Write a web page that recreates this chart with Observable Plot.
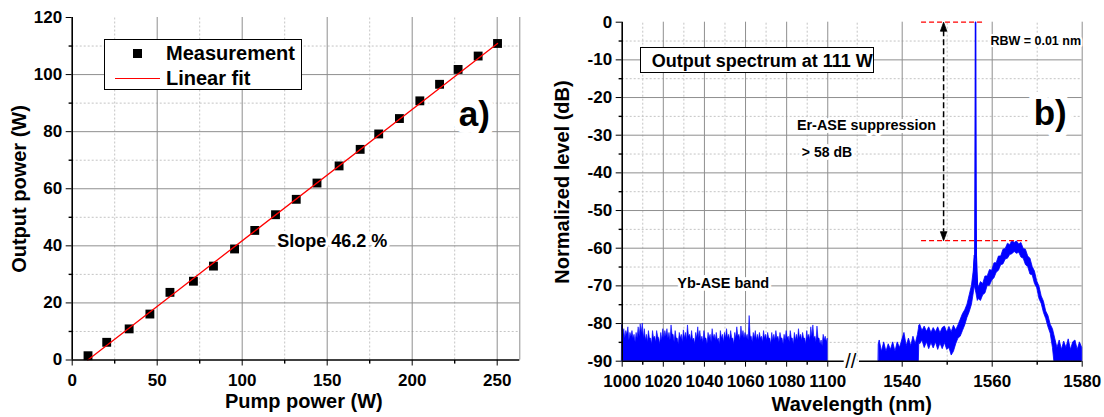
<!DOCTYPE html>
<html><head><meta charset="utf-8">
<script src="https://cdn.jsdelivr.net/npm/d3@7"></script>
<script src="https://cdn.jsdelivr.net/npm/@observablehq/plot@0.6"></script>
<style>
body{margin:0;background:#fff;}
#wrap{position:relative;width:1104px;height:417px;font-family:"Liberation Sans",Arial,sans-serif;font-weight:bold;color:#000;overflow:hidden;background:#fff}
#wrap svg{position:absolute;top:0}
#wrap svg text{paint-order:stroke}
.abs{position:absolute;white-space:nowrap;line-height:1}
</style></head><body><div id="wrap"></div>
<script>
// ---------- Panel a data ----------
const pumpPower   = [9.3, 20.3, 33.5, 45.7, 57.5, 71.3, 83.1, 95.5, 107.4, 119.6, 131.8, 144.0, 157.0, 169.4, 180.3, 192.5, 204.5, 216.1, 227.0, 238.8, 250.2];
const outputPower = [1.5, 6.2, 10.9, 16.1, 23.7, 27.6, 32.9, 38.9, 45.4, 50.9, 56.3, 62.0, 68.0, 73.8, 79.2, 84.6, 90.8, 96.6, 101.8, 106.5, 110.9];
const fitPump   = [9.2, 250.2];
const fitOutput = [0, 110.9];
const xTicksA = [0, 50, 100, 150, 200, 250];
const xMinorA = [25, 75, 125, 175, 225];
const yTicksA = [0, 20, 40, 60, 80, 100, 120];
const yMinorA = [10, 30, 50, 70, 90, 110];

// ---------- Panel b data ----------
const ybStart = 1000, ybStep = 0.5;
const ybLevel = [
 -80.5,-83.5,-81.5,-84,-82,-83,-81,-84.5,-82.5,-83.5,-82,-84,-83,-85,-82.5,-84,-81,-83.5,-80.2,-82.5,
 -80,-84,-81.5,-84.5,-83,-85,-82,-84,-84,-85.5,-82,-84,-83.5,-85,-82,-83.5,-84,-85.5,-82.5,-84.5,
 -81.5,-84,-82,-83.5,-81.5,-84,-82.5,-84.5,-80.5,-83,-83,-85,-82,-84,-84,-85.5,-82.5,-84,-83,-85,
 -81.8,-84,-82.5,-84.5,-80.5,-83.5,-83,-84.5,-82,-84.5,-84,-85.5,-82.5,-84,-81,-84,-82,-84.5,-83.5,-85,
 -82,-84,-84,-85.5,-82.5,-84,-83,-85,-81.5,-84,-83,-84.5,-82.5,-84.5,-84,-85.5,-82,-84,-83,-85,
 -82.5,-84,-81.5,-84,-83,-84.5,-82,-84,-84,-85.5,-82.5,-84,-81,-83.5,-83,-84.5,-80.8,-83.5,-82,-84,
 -82.5,-84,-83,-84.5,-78,-83.5,-83.5,-85,-82.5,-84,-82,-84.5,-83,-84.5,-82.5,-84,-83.5,-85,-82,-84,
 -83,-84.5,-82.5,-84,-84,-85.5,-82.5,-84.5,-83,-84.5,-82,-84,-83.5,-85,-82.5,-84,-84,-85.5,-83,-84.5,
 -82,-84,-83.5,-85,-82,-84,-84,-85.5,-82.5,-84.5,-83,-84.5,-81.5,-84,-83,-84.5,-82.5,-84,-84,-85.5,
 -82,-84,-83,-84.5,-81,-83.5,-80.5,-84,-83.5,-85,-80.8,-84,-84,-85.5,-84.5,-86,-83,-84.5,-83.5,-85,-84
];
const erWavelength = [
 1534.8,1535,1535.5,1536,1536.5,1537,1537.5,1538,1538.5,1539,1539.5,1540,1540.5,1541,1541.5,1542,1542.5,1543,1543.5,1543.7,
 1543.8,1544,1544.5,1545,1545.5,1546,1546.5,1547,1547.5,1548,1548.5,1549,1549.5,1550,1550.5,1551,1551.5,1552,1552.5,1553,
 1553.5,1554,1554.5,1555,1555.5,1555.9,1556.1,1556.5,1556.8,1557,1557.5,1558,1558.5,1559,1559.5,1560,1560.5,1561,1561.5,1562,1562.5,1563,
 1563.5,1564,1564.5,1565,1565.5,1566,1566.5,1567,1567.5,1568,1568.5,1569,1569.5,1570,1570.5,1571,1571.5,1572,1572.5,1573,1573.5,1573.8,
 1574,1574.5,1575,1575.5,1576,1576.5,1577,1577.5,1578,1578.5,1579,1579.5,1580];
const erUpper = [
 -85.5,-84.5,-87.5,-85,-87.5,-85.5,-87,-85,-87.5,-85,-86.5,-84.5,-82.5,-86,-84,-86,-83.5,-85.5,-83,-81.5,
 -80.5,-80.3,-82,-80.8,-82.2,-81,-82.5,-81.2,-82.3,-81,-82.6,-81.2,-80.8,-82.4,-80.9,-82.3,-80.6,-81.8,-80.5,-79,
 -77.5,-76.5,-75,-72.5,-70,-66,-62,-64,-69.5,-70.5,-69,-69.5,-67.5,-67.5,-65.8,-66,-64,-64,-62.2,-62.2,-60.4,-60.2,
 -58.8,-59.2,-58,-58.6,-58.2,-59,-58.6,-60.2,-60.4,-62.2,-62.8,-65,-66.2,-68.8,-70.2,-72.8,-74.2,-76.8,-78,-80.3,-81.5,-83,
 -84,-86.5,-84.5,-87,-84.8,-86.5,-84.2,-87,-85,-84.5,-87,-85,-86.5];
const erLower = [
 -90,-90,-90,-90,-90,-90,-90,-90,-90,-90,-90,-90,-90,-90,-90,-90,-90,-90,-90,-90,
 -85,-85.5,-84.5,-86.5,-85,-86.8,-85.2,-86.6,-85,-87,-85.3,-86.8,-85.2,-87,-86.5,-88.5,-87.5,-85.5,-84,-83.5,
 -82,-80.5,-78.5,-77,-75,-72,-70,-72,-74,-73.5,-74,-72.5,-72,-70,-70,-68.6,-68,-66.5,-66,-64.5,-64.3,-63,
 -62.8,-61.8,-61.6,-61,-61.5,-61.2,-62.5,-62.8,-64.5,-65,-67,-67.2,-69.5,-70.6,-73.5,-74.8,-77.2,-78.8,-81,-82.7,-86.5,-90,
 -90,-90,-90,-90,-90,-90,-90,-90,-90,-90,-90,-90,-90];
const peakWavelength = [1555.9, 1556.15, 1556.27, 1556.3, 1556.33, 1556.45, 1556.7];
const peakLevel      = [-66, -62, -20, 0, -20, -62, -70];
const xTicksB = [1000, 1020, 1040, 1060, 1080, 1100, 1540, 1560, 1580];
const xMinorB = [1010, 1030, 1050, 1070, 1090, 1550, 1570];
const xGridMajorB = [1020, 1040, 1060, 1080, 1100, 1540, 1560, 1580];
const xGridMinorB = [1010, 1030, 1050, 1070, 1090, 1530, 1550, 1570];
const yTicksB = [0, -10, -20, -30, -40, -50, -60, -70, -80, -90];
const yMinorB = [-5, -15, -25, -35, -45, -55, -65, -75, -85];
const suppressionTop = 0, suppressionBottom = -58, suppressionX = 1549.2;

// ---------- styles ----------
const BLUE = "#0000ff", RED = "#ff0000";
const gridMajor = "#8f8f8f", gridMinor = "#c4c4c4";
const fmt = d => String(d);
const baseStyle = {fontFamily: "'Liberation Sans', Arial, sans-serif", fontSize: "17px", fontWeight: "bold", color: "#000", background: "transparent", overflow: "visible"};
const tickDown = {draw(c){ c.moveTo(0,0); c.lineTo(0,3.6); }};
const tickLeft = {draw(c){ c.moveTo(0,0); c.lineTo(-3.6,0); }};
const headUp   = {draw(c){ c.moveTo(0,0); c.lineTo(3.2,9); c.lineTo(-3.2,9); c.closePath(); }};
const headDown = {draw(c){ c.moveTo(0,0); c.lineTo(3.2,-9); c.lineTo(-3.2,-9); c.closePath(); }};

// ---------- Panel a ----------
const ptsA = pumpPower.map((p, i) => ({pump: p, out: outputPower[i]}));
const fitA = fitPump.map((p, i) => ({pump: p, out: fitOutput[i]}));
const xMaxA = 263.3;
const notesA = [
  {x: 120.6, y: 41.7, text: "Slope 46.2 %", size: 18, anchor: "start", halo: 6},
  {x: 236.6, y: 85.8, text: "a)", size: 35, anchor: "middle", halo: 14}
];
const chartA = Plot.plot({
  width: 540, height: 417, marginLeft: 71.7, marginRight: 20.7, marginTop: 17, marginBottom: 57.5,
  style: baseStyle,
  x: {domain: [0, xMaxA], ticks: xTicksA, tickSize: 6, tickPadding: 8, tickFormat: fmt, label: null},
  y: {domain: [0, 120], ticks: yTicksA, tickSize: 6, tickPadding: 4, tickFormat: fmt, label: null},
  marks: [
    Plot.ruleX(xMinorA, {y1: 0, y2: 120, stroke: gridMinor, strokeDasharray: "2,2"}),
    Plot.ruleY(yMinorA, {x1: 0, x2: xMaxA, stroke: gridMinor, strokeDasharray: "2,2"}),
    Plot.ruleX(xTicksA.filter(d => d > 0).concat([xMaxA]), {y1: 0, y2: 120, stroke: gridMajor}),
    Plot.ruleY(yTicksA.filter(d => d > 0 && d < 120), {x1: 0, x2: xMaxA, stroke: gridMajor}),
    ...notesA.map(n => Plot.text([n], {x: "x", y: "y", text: "text", fontSize: n.size, textAnchor: n.anchor, fill: "black", stroke: "white", strokeWidth: n.halo, strokeLinejoin: "round", fontWeight: "bold"})),
    Plot.dot(ptsA, {x: "pump", y: "out", symbol: "square", r: 5, fill: "black"}),
    Plot.line(fitA, {x: "pump", y: "out", stroke: RED, strokeWidth: 1.3}),
    Plot.ruleX([0], {y1: 0, y2: 120, stroke: "black", strokeWidth: 1.6}),
    Plot.ruleY([0], {x1: 0, x2: xMaxA, stroke: "black", strokeWidth: 1.6}),
    Plot.dot(xMinorA, {x: d => d, y: 0, symbol: tickDown, stroke: "black", strokeWidth: 1.4, fill: "none"}),
    Plot.dot(yMinorA, {x: 0, y: d => d, symbol: tickLeft, stroke: "black", strokeWidth: 1.4, fill: "none"})
  ]
});
chartA.style.left = "0px";

// ---------- Panel b ----------
const yb = ybLevel.map((v, i) => ({w: ybStart + i * ybStep, v}));
const band = erWavelength.map((w, i) => ({w, hi: erUpper[i], lo: erLower[i]}));
const peak = peakWavelength.map((w, i) => ({w, v: peakLevel[i]}));
const notesB = [
  {x: 1026.8, y: -69.4, text: "Yb-ASE band", size: 14.5, anchor: "start", halo: 6},
  {x: 1085, y: -27.4, text: "Er-ASE suppression", size: 14.4, anchor: "start", halo: 6},
  {x: 1087.4, y: -34.5, text: "> 58 dB", size: 14, anchor: "start", halo: 6},
  {x: 1559.6, y: -5.0, text: "RBW = 0.01 nm", size: 12.5, anchor: "start", halo: 4},
  {x: 1572.9, y: -24.2, text: "b)", size: 35, anchor: "middle", halo: 14}
];
const chartB = Plot.plot({
  width: 564, height: 417, marginLeft: 81.7, marginRight: 22.3, marginTop: 21.7, marginBottom: 56.3,
  style: baseStyle,
  x: {type: "linear", domain: [1000, 1108, 1530, 1580], range: [81.7, 303.7, 316.7, 541.7], ticks: xTicksB, tickSize: 6, tickPadding: 8, tickFormat: fmt, label: null},
  y: {domain: [-90, 0], ticks: yTicksB, tickSize: 6, tickPadding: 4, tickFormat: fmt, label: null},
  marks: [
    Plot.ruleX(xGridMinorB, {y1: -90, y2: 0, stroke: gridMinor, strokeDasharray: "2,2"}),
    Plot.ruleY(yMinorB, {x1: 1000, x2: 1580, stroke: gridMinor, strokeDasharray: "2,2"}),
    Plot.ruleX(xGridMajorB, {y1: -90, y2: 0, stroke: gridMajor}),
    Plot.ruleY(yTicksB.filter(d => d < 0 && d > -90), {x1: 1000, x2: 1580, stroke: gridMajor}),
    ...notesB.map(n => Plot.text([n], {x: "x", y: "y", text: "text", fontSize: n.size, textAnchor: n.anchor, fill: "black", stroke: "white", strokeWidth: n.halo, strokeLinejoin: "round", fontWeight: "bold"})),
    Plot.areaY(yb, {x: "w", y1: -90, y2: "v", fill: BLUE, stroke: BLUE, strokeWidth: 0.6}),
    Plot.areaY(band, {x: "w", y1: "lo", y2: "hi", fill: BLUE, stroke: BLUE, strokeWidth: 0.8}),
    Plot.line(peak, {x: "w", y: "v", stroke: BLUE, strokeWidth: 1.6}),
    Plot.ruleY([suppressionTop], {x1: 1544.3, x2: 1558.1, stroke: RED, strokeWidth: 1.3, strokeDasharray: "5,3"}),
    Plot.ruleY([suppressionBottom], {x1: 1544.3, x2: 1567.9, stroke: RED, strokeWidth: 1.3, strokeDasharray: "5,3"}),
    Plot.ruleX([suppressionX], {y1: suppressionTop - 2.3, y2: suppressionBottom + 2.3, stroke: "black", strokeWidth: 1.5, strokeDasharray: "6,3"}),
    Plot.dot([suppressionTop], {x: suppressionX, y: d => d, symbol: headUp, fill: "black", stroke: "black", strokeWidth: 0.8}),
    Plot.dot([suppressionBottom], {x: suppressionX, y: d => d, symbol: headDown, fill: "black", stroke: "black", strokeWidth: 0.8}),
    Plot.ruleX([1000], {y1: -90, y2: 0, stroke: "black", strokeWidth: 1.6}),
    Plot.ruleY([-90], {x1: 1000, x2: 1108, stroke: "black", strokeWidth: 1.6}),
    Plot.ruleY([-90], {x1: 1530.5, x2: 1580, stroke: "black", strokeWidth: 1.6}),
    Plot.text(["//"], {x: 1319, y: -90, text: d => d, fontSize: 20, fontWeight: "normal", fill: "black"}),
    Plot.dot(xMinorB, {x: d => d, y: -90, symbol: tickDown, stroke: "black", strokeWidth: 1.4, fill: "none"}),
    Plot.dot(yMinorB, {x: 1000, y: d => d, symbol: tickLeft, stroke: "black", strokeWidth: 1.4, fill: "none"})
  ]
});
chartB.style.left = "540px";

const wrap = document.getElementById("wrap");
wrap.appendChild(chartA);
wrap.appendChild(chartB);

// ---------- HTML overlays: titles and legends ----------
function addDiv(html, css) {
  const d = document.createElement("div");
  d.className = "abs";
  d.innerHTML = html;
  Object.assign(d.style, css);
  wrap.appendChild(d);
  return d;
}
addDiv("Pump power (W)", {left: "303.8px", top: "400.7px", fontSize: "20px", transform: "translate(-50%,-50%)"});
addDiv("Output power (W)", {left: "19.1px", top: "189px", fontSize: "20px", transform: "translate(-50%,-50%) rotate(-90deg)"});
addDiv("Wavelength (nm)", {left: "851.7px", top: "404.1px", fontSize: "20px", transform: "translate(-50%,-50%)"});
addDiv("Normalized level (dB)", {left: "561.8px", top: "181.5px", fontSize: "20px", transform: "translate(-50%,-50%) rotate(-90deg)"});

// legend a)
addDiv("", {left: "104px", top: "39.3px", width: "198.3px", height: "50.7px", border: "1.5px solid #000", background: "#fff", boxSizing: "border-box"});
addDiv("", {left: "133.2px", top: "48.8px", width: "9px", height: "9px", background: "#000"});
addDiv("Measurement", {left: "166px", top: "43.1px", fontSize: "20px"});
addDiv("", {left: "115px", top: "77.6px", width: "45px", height: "1.4px", background: RED});
addDiv("Linear fit", {left: "166px", top: "68.1px", fontSize: "20px"});

// title box b)
addDiv("", {left: "639.5px", top: "46.7px", width: "234.5px", height: "26px", border: "1.5px solid #000", background: "#fff", boxSizing: "border-box"});
addDiv("Output spectrum at 111 W", {left: "651.7px", top: "51.5px", fontSize: "18px"});
</script></body></html>
